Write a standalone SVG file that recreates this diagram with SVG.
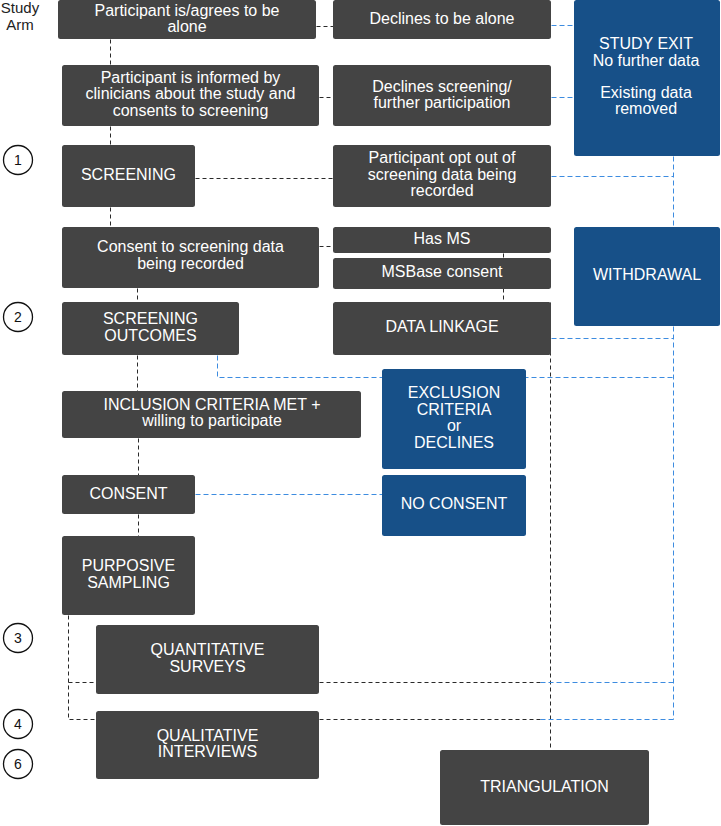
<svg xmlns="http://www.w3.org/2000/svg" width="721" height="826" viewBox="0 0 721 826">
<style>
text{font-family:"Liberation Sans",Arial,sans-serif;font-size:16px;fill:#ffffff;text-anchor:middle}
.g{fill:#444444}
.b{fill:#175088}
.k{stroke:#2a2a2a;stroke-width:1;stroke-dasharray:4 3;fill:none}
.u{stroke:#3d8ce0;stroke-width:1;stroke-dasharray:5 3;fill:none}
.c{fill:#ffffff;stroke:#111111;stroke-width:1.3}
text.n{fill:#111111;font-size:14px}
text.h{fill:#222222;font-size:15px}
</style>
<rect width="721" height="826" fill="#ffffff"/>
<g id="connectors" transform="translate(0.5,0.5)">
<path class="k" d="M110 39V65M110 126V145M110 207V227M137 288V302M137 355V391M138 438V475M138 514V536"/>
<path class="k" d="M316 26H333M319 97H333M195 178H333M319 246H333M503 253V302M550 302V750"/>
<path class="k" d="M68 615V719H96M68 682H96M319 682H540M319 719H540"/>
<path class="u" d="M551 25H574M551 97H574M551 176H673M673 156V227M673 326V719M551 338H673M217 355V377H673M195 494H382M540 682H673M540 719H673"/>
</g>
<g id="study-arm"><text class="h" x="20" y="13">Study</text><text class="h" x="20" y="29.5">Arm</text></g>
<g id="step1"><circle class="c" cx="18" cy="160" r="14.5"/><text class="n" x="18" y="165">1</text></g>
<g id="step2"><circle class="c" cx="18" cy="317" r="14.5"/><text class="n" x="18" y="322">2</text></g>
<g id="step3"><circle class="c" cx="18" cy="638" r="14.5"/><text class="n" x="18" y="643">3</text></g>
<g id="step4"><circle class="c" cx="18" cy="724" r="14.5"/><text class="n" x="18" y="729">4</text></g>
<g id="step6"><circle class="c" cx="18" cy="764" r="14.5"/><text class="n" x="18" y="769">6</text></g>
<g id="alone"><rect class="g" x="58" y="0" width="258" height="39" rx="2.5"/><text x="187" y="16">Participant is/agrees to be</text><text x="187" y="32">alone</text></g>
<g id="informed"><rect class="g" x="62" y="65" width="257" height="61" rx="2.5"/><text x="190.5" y="83">Participant is informed by</text><text x="190.5" y="99">clinicians about the study and</text><text x="190.5" y="115.5">consents to screening</text></g>
<g id="screening"><rect class="g" x="62" y="145" width="133" height="62" rx="2.5"/><text x="128.5" y="180">SCREENING</text></g>
<g id="declines-alone"><rect class="g" x="333" y="0" width="218" height="39" rx="2.5"/><text x="442" y="24">Declines to be alone</text></g>
<g id="declines-screening"><rect class="g" x="333" y="65" width="218" height="61" rx="2.5"/><text x="442" y="92">Declines screening/</text><text x="442" y="108">further participation</text></g>
<g id="opt-out"><rect class="g" x="333" y="145" width="218" height="62" rx="2.5"/><text x="442" y="163">Participant opt out of</text><text x="442" y="180">screening data being</text><text x="442" y="196">recorded</text></g>
<g id="study-exit"><rect class="b" x="574" y="0" width="146" height="156" rx="2.5"/><text x="646" y="49">STUDY EXIT</text><text x="646" y="66">No further data</text><text x="646" y="98">Existing data</text><text x="646" y="114">removed</text></g>
<g id="consent-screening-data"><rect class="g" x="62" y="227" width="257" height="61" rx="2.5"/><text x="190.5" y="252">Consent to screening data</text><text x="190.5" y="269">being recorded</text></g>
<g id="has-ms"><rect class="g" x="333" y="227" width="218" height="26" rx="2.5"/><text x="442" y="244">Has MS</text></g>
<g id="msbase"><rect class="g" x="333" y="258" width="218" height="31" rx="2.5"/><text x="442" y="277">MSBase consent</text></g>
<g id="data-linkage"><rect class="g" x="333" y="302" width="218" height="53" rx="2.5"/><text x="442" y="332">DATA LINKAGE</text></g>
<g id="withdrawal"><rect class="b" x="574" y="227" width="146" height="99" rx="2.5"/><text x="647" y="280">WITHDRAWAL</text></g>
<g id="screening-outcomes"><rect class="g" x="62" y="302" width="177" height="53" rx="2.5"/><text x="150.5" y="324">SCREENING</text><text x="150.5" y="341">OUTCOMES</text></g>
<g id="exclusion"><rect class="b" x="382" y="369" width="144" height="100" rx="2.5"/><text x="454" y="398">EXCLUSION</text><text x="454" y="415">CRITERIA</text><text x="454" y="431">or</text><text x="454" y="448">DECLINES</text></g>
<g id="inclusion"><rect class="g" x="62" y="391" width="299" height="47" rx="2.5"/><text x="212" y="410">INCLUSION CRITERIA MET +</text><text x="212" y="426">willing to participate</text></g>
<g id="consent"><rect class="g" x="62" y="475" width="133" height="39" rx="2.5"/><text x="128.5" y="499">CONSENT</text></g>
<g id="no-consent"><rect class="b" x="382" y="475" width="144" height="61" rx="2.5"/><text x="454" y="509">NO CONSENT</text></g>
<g id="purposive"><rect class="g" x="62" y="536" width="133" height="79" rx="2.5"/><text x="128.5" y="571">PURPOSIVE</text><text x="128.5" y="588">SAMPLING</text></g>
<g id="quantitative"><rect class="g" x="96" y="625" width="223" height="69" rx="2.5"/><text x="207.5" y="655">QUANTITATIVE</text><text x="207.5" y="672">SURVEYS</text></g>
<g id="qualitative"><rect class="g" x="96" y="711" width="223" height="68" rx="2.5"/><text x="207.5" y="741">QUALITATIVE</text><text x="207.5" y="757">INTERVIEWS</text></g>
<g id="triangulation"><rect class="g" x="440" y="750" width="209" height="75" rx="2.5"/><text x="544.5" y="792">TRIANGULATION</text></g>
</svg>
